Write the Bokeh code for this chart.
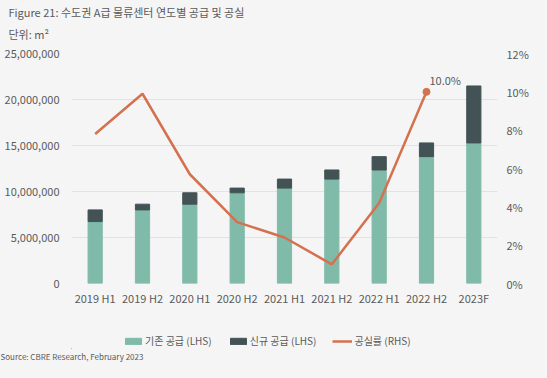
from bokeh.plotting import figure
from bokeh.layouts import column
from bokeh.models import (Range1d, LinearAxis, NumeralTickFormatter, Legend, LegendItem,
                          Title, FixedTicker, ColumnDataSource)
from bokeh.embed import file_html
from bokeh.resources import INLINE
from bokeh.core.properties import value

categories = ["2019 H1", "2019 H2", "2020 H1", "2020 H2", "2021 H1", "2021 H2", "2022 H1", "2022 H2", "2023F"]
existing_supply = [6730000, 8000000, 8620000, 9860000, 10370000, 11350000, 12340000, 13790000, 15280000]
new_supply = [1270000, 620000, 1240000, 510000, 980000, 990000, 1450000, 1490000, 6190000]
vacancy = [0.078, 0.099, 0.057, 0.032, 0.024, 0.010, 0.042, 0.100, float("nan")]
left_ticks = [0, 5000000, 10000000, 15000000, 20000000, 25000000]
right_ticks = [0, 0.02, 0.04, 0.06, 0.08, 0.10, 0.12]
legend_labels = ["기존 공급 (LHS)", "신규 공급 (LHS)", "공실률 (RHS)"]

FONT = "Noto Sans CJK KR"
BG = "#f5f5f5"
TEAL = "#80bbaa"
DARK = "#435254"
ORANGE = "#d4714e"
TXT = "#5a5a5a"
W = 531

src = ColumnDataSource(dict(cat=categories, existing=existing_supply, new=new_supply, vac=vacancy))

p = figure(x_range=categories, y_range=Range1d(0, 25000000), width=W, height=313,
           output_backend="svg", toolbar_location=None,
           background_fill_color=BG, border_fill_color=BG, outline_line_color=None,
           min_border_left=71, min_border_right=26, min_border_top=0, min_border_bottom=30)
p.extra_y_ranges = {"pct": Range1d(0, 0.12)}

bars = p.vbar_stack(["existing", "new"], x="cat", width=0.3, color=[TEAL, DARK], source=src)
line = p.line(x="cat", y="vac", source=src, y_range_name="pct", line_color=ORANGE, line_width=2.5)
last = len(categories) - 2
p.scatter(x=[categories[last]], y=[vacancy[last]], y_range_name="pct", size=7,
          color=ORANGE, line_color=ORANGE)
p.text(x=[categories[last]], y=[vacancy[last]], text=["10.0%"], y_range_name="pct",
       text_font=value(FONT), text_font_size="11px", text_color=TXT,
       text_align="left", text_baseline="bottom", x_offset=3, y_offset=-4)

# axes
p.yaxis.ticker = FixedTicker(ticks=left_ticks)
p.yaxis.formatter = NumeralTickFormatter(format="0,0")
ra = LinearAxis(y_range_name="pct", ticker=FixedTicker(ticks=right_ticks),
                formatter=NumeralTickFormatter(format="0%"))
p.add_layout(ra, "right")
for ax in [p.xaxis[0], p.yaxis[0], ra]:
    ax.axis_line_color = None
    ax.major_tick_line_color = None
    ax.minor_tick_line_color = None
    ax.major_tick_out = 0
    ax.major_tick_in = 0
    ax.minor_tick_out = 0
    ax.major_label_text_font = FONT
    ax.major_label_text_font_size = "11px"
    ax.major_label_text_color = TXT
p.yaxis[0].major_label_standoff = 12
ra.major_label_standoff = 9
p.xaxis.major_label_standoff = 6
p.xgrid.grid_line_color = None
p.ygrid.grid_line_color = "#e2e2e2"

# small spacer between the unit line and the plot area
p.add_layout(Title(text=" ", align="left", standoff=0, text_font=FONT, text_font_size="5px",
                   text_color=BG), "above")
p.add_layout(Title(text="단위: m²", align="left", offset=-63, standoff=6,
                   text_font=FONT, text_font_size="11px", text_font_style="normal",
                   text_color=TXT), "above")
p.add_layout(Title(text="Figure 21: 수도권 A급 물류센터 연도별 공급 및 공실", align="left", offset=-63,
                   standoff=2, text_font=FONT, text_font_size="11px", text_font_style="normal",
                   text_color=TXT), "above")

# legend + source strip (same side borders as the chart, so frames line up)
LH = 49
q = figure(x_range=Range1d(0, 1), y_range=Range1d(0, 1), width=W, height=LH,
           output_backend="svg", toolbar_location=None,
           background_fill_color=BG, border_fill_color=BG, outline_line_color=None,
           min_border_left=71, min_border_right=26, min_border_top=0, min_border_bottom=14,
           x_axis_location=None, y_axis_location=None)
q.grid.visible = False
# legend proxies, placed outside the visible range
r1 = q.vbar(x=[-5], top=[-4], bottom=[-5], width=1, color=TEAL)
r2 = q.vbar(x=[-5], top=[-4], bottom=[-5], width=1, color=DARK)
r3 = q.line(x=[-6, -5], y=[-5, -5], line_color=ORANGE, line_width=2.5)
legend = Legend(items=[LegendItem(label=legend_labels[0], renderers=[r1]),
                       LegendItem(label=legend_labels[1], renderers=[r2]),
                       LegendItem(label=legend_labels[2], renderers=[r3])],
                orientation="horizontal", location=(52, 0),
                background_fill_alpha=0, border_line_color=None,
                label_text_font=FONT, label_text_font_size="10px", label_text_color=TXT,
                glyph_width=20, glyph_height=8, label_standoff=2, spacing=16,
                padding=0, margin=0)
q.add_layout(legend, "center")
q.add_layout(Title(text="Source: CBRE Research, February 2023", align="left", offset=-71,
                   standoff=0, text_font=FONT, text_font_size="8px", text_font_style="normal",
                   text_color=TXT), "below")

layout = column(p, q, spacing=0)
html = file_html(layout, INLINE)
html = html.replace("<head>", "<head><style>html,body{background:%s;}</style>" % BG, 1)
open("out.html", "w").write(html)
